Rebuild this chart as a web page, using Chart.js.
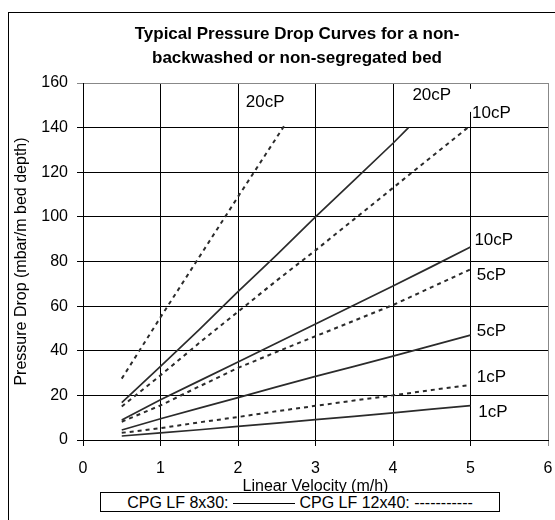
<!DOCTYPE html>
<html>
<head>
<meta charset="utf-8">
<script src="https://cdn.jsdelivr.net/npm/chart.js@4"></script>
<style>
  body { margin: 0; background: #fff; overflow: hidden; }
  #wrap { position: relative; width: 555px; height: 520px; }
  #frame { position: absolute; left: 8px; top: 12px; width: 600px; height: 600px; border: 1px solid #000; pointer-events: none; }
  #legend {
    position: absolute; left: 100px; top: 492px; width: 398px; height: 18px;
    border: 1px solid #000; background: #fff;
    font: 16px "Liberation Sans", Arial, sans-serif; line-height: 19px;
    text-align: center; white-space: nowrap; color: #000;
  }
  #legend .solid { display: inline-block; width: 62px; border-top: 1px solid #000; vertical-align: middle; }
</style>
</head>
<body>
<div id="wrap">
  <canvas id="chart" width="555" height="520"></canvas>
  <div id="frame"></div>
  <div id="legend">CPG LF 8x30: <span class="solid"></span> CPG LF 12x40: -----------</div>
</div>
<script>
// velocity (m/h) for each curve
const velocity = [0.5, 1, 1.5, 2, 2.5, 3, 3.5, 4, 4.5, 5];
const velocitySolid20 = [0.5, 1, 1.5, 2, 2.5, 3, 3.5, 4, 4.2];
const velocityDashed20 = [0.5, 1, 1.5, 2, 2.6];

// CPG LF 8x30 (solid)
const solid1cP = [1.8, 3.2, 4.6, 6.1, 7.6, 9.1, 10.6, 12.2, 13.8, 15.4];
const solid5cP = [4.5, 9.5, 14.3, 19, 23.8, 28.5, 33, 37.6, 42.3, 47];
const solid10cP = [9, 18, 26.5, 35, 43.5, 52, 60.5, 69, 77.7, 86.5];
const solid20cP = [16.7, 33, 49.5, 66.5, 83, 100, 116.5, 133, 140];

// CPG LF 12x40 (dashed)
const dashed1cP = [3.2, 5.3, 7.9, 10.3, 12.9, 15.3, 17.7, 20, 22.4, 24.7];
const dashed5cP = [8.2, 15.5, 24, 32.3, 39.5, 46.5, 53.5, 60.5, 68.5, 76.5];
const dashed10cP = [15, 29, 43.5, 57.5, 71.5, 85, 99, 113, 127, 141];
const dashed20cP = [27.5, 55, 82, 109, 141];

// curve labels placed in data units (left edge, vertical middle)
const curveLabels = ['20cP', '20cP', '10cP', '10cP', '5cP', '5cP', '1cP', '1cP'];
const labelX = [2.1, 4.25, 5.02, 5.05, 5.08, 5.08, 5.08, 5.1];
const labelY = [151.5, 154.6, 146.6, 89.6, 74, 48.9, 28.2, 12.5];

const xTicks = [0, 1, 2, 3, 4, 5, 6];
const yTicks = [0, 20, 40, 60, 80, 100, 120, 140, 160];

const titleLines = ['Typical Pressure Drop Curves for a non-', 'backwashed or non-segregated bed'];

const FONT = '"Liberation Sans", Arial, sans-serif';

function pts(xs, ys) {
    return ys.map((y, i) => ({ x: xs[i], y: y }));
}

function solid(data) {
    return { data: data, borderColor: '#2b2b2b', borderWidth: 1.7, pointRadius: 0, fill: false, tension: 0 };
}
function dashed(data) {
    return { data: data, borderColor: '#2b2b2b', borderWidth: 2, borderDash: [4, 4], pointRadius: 0, fill: false, tension: 0 };
}

// draws the title and the cP labels
const annotations = {
    id: 'annotations',
    afterDraw(chart) {
        const ctx = chart.ctx;
        const xs = chart.scales.x, ys = chart.scales.y;
        ctx.save();
        ctx.fillStyle = '#000';
        ctx.textAlign = 'center';
        ctx.textBaseline = 'middle';
        ctx.font = 'bold 17px ' + FONT;
        ctx.fillText(titleLines[0], 297, 34);
        ctx.fillText(titleLines[1], 297, 58);

        ctx.font = '17px ' + FONT;
        ctx.textAlign = 'left';
        curveLabels.forEach((t, i) => {
            const px = xs.getPixelForValue(labelX[i]);
            const py = ys.getPixelForValue(labelY[i]);
            if (i === 2) {
                // label box hides part of the x=5 grid line
                ctx.fillStyle = '#fff';
                ctx.fillRect(px - 5, py - 24, 46, 23);
                ctx.fillStyle = '#000';
            }
            ctx.fillText(t, px, py);
        });
        ctx.restore();
    }
};

const ctx = document.getElementById('chart').getContext('2d');
const chart = new Chart(ctx, {
    type: 'line',
    data: {
        datasets: [
            solid(pts(velocity, solid1cP)),
            solid(pts(velocity, solid5cP)),
            solid(pts(velocity, solid10cP)),
            solid(pts(velocitySolid20, solid20cP)),
            dashed(pts(velocity, dashed1cP)),
            dashed(pts(velocity, dashed5cP)),
            dashed(pts(velocity, dashed10cP)),
            dashed(pts(velocityDashed20, dashed20cP))
        ]
    },
    options: {
        responsive: false,
        animation: false,
        layout: { padding: { top: 83, left: 0, right: 7, bottom: 24 } },
        plugins: {
            legend: { display: false },
            tooltip: { enabled: false },
            title: { display: false }
        },
        scales: {
            x: {
                type: 'linear',
                min: 0,
                max: 6,
                afterBuildTicks: s => { s.ticks = xTicks.map(v => ({ value: v })); },
                afterFit: s => { s.height = 56; s.paddingRight = 0; },
                ticks: { color: '#000', font: { family: FONT, size: 16 }, padding: 13, maxRotation: 0 },
                grid: {
                    color: c => (c.tick && c.tick.value === 6) ? '#888' : '#000',
                    lineWidth: 1,
                    tickLength: 6
                },
                border: { color: '#000', width: 1 },
                title: { display: true, text: 'Linear Velocity (m/h)', color: '#000', font: { family: FONT, size: 16 }, padding: { top: 0, bottom: 0 } }
            },
            y: {
                min: 0,
                max: 160,
                afterBuildTicks: s => { s.ticks = yTicks.map(v => ({ value: v })); },
                afterFit: s => { s.width = 83; },
                ticks: { color: '#000', font: { family: FONT, size: 16 }, padding: 9 },
                grid: {
                    color: c => (c.tick && c.tick.value === 160) ? '#888' : '#000',
                    lineWidth: 1,
                    tickLength: 6
                },
                border: { color: '#000', width: 1 },
                title: { display: true, text: 'Pressure Drop (mbar/m bed depth)', color: '#000', font: { family: FONT, size: 16 }, padding: { top: 12, bottom: 0 } }
            }
        }
    },
    plugins: [annotations]
});
</script>
</body>
</html>
